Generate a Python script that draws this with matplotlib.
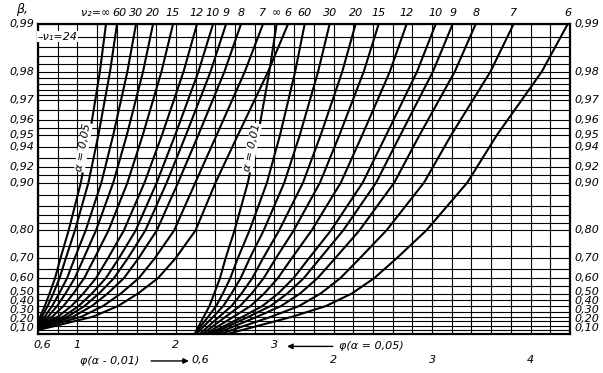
import numpy as np
import matplotlib
matplotlib.use("Agg")
import matplotlib.pyplot as plt
from matplotlib.transforms import blended_transform_factory, offset_copy

# -----------------------------
# Data
# -----------------------------
BETA_LEVELS = [0.30, 0.40, 0.50, 0.60, 0.70, 0.80, 0.90, 0.95, 0.98, 0.99]
NU2_LABELS = ["∞", "60", "30", "20", "15", "12", "10", "9", "8", "7", "6"]

# alpha = 0.05 family, all curves begin at phi = 0.6
A05_START_PHI = [0.6] * 11
A05_START_BETA = [0.27, 0.26, 0.25, 0.24, 0.225, 0.21, 0.20, 0.19, 0.18, 0.165, 0.15]
A05_PHI = [
    [0.621, 0.669, 0.717, 0.773, 0.828, 0.911, 1.035, 1.124, 1.228, 1.290],
    [0.639, 0.698, 0.755, 0.819, 0.882, 0.975, 1.112, 1.213, 1.331, 1.402],
    [0.668, 0.743, 0.815, 0.895, 0.972, 1.084, 1.243, 1.364, 1.507, 1.595],
    [0.702, 0.794, 0.879, 0.973, 1.063, 1.189, 1.364, 1.502, 1.666, 1.768],
    [0.745, 0.858, 0.959, 1.069, 1.173, 1.316, 1.508, 1.664, 1.853, 1.971],
    [0.802, 0.939, 1.060, 1.189, 1.310, 1.472, 1.681, 1.859, 2.077, 2.214],
    [0.856, 1.012, 1.147, 1.289, 1.421, 1.592, 1.805, 1.993, 2.228, 2.377],
    [0.900, 1.072, 1.219, 1.371, 1.511, 1.690, 1.906, 2.102, 2.351, 2.509],
    [0.957, 1.146, 1.307, 1.472, 1.620, 1.806, 2.022, 2.228, 2.492, 2.661],
    [1.041, 1.260, 1.441, 1.623, 1.785, 1.982, 2.197, 2.414, 2.699, 2.884],
    [1.158, 1.412, 1.615, 1.818, 1.996, 2.199, 2.402, 2.630, 2.935, 3.138],
]

# alpha = 0.01 family (phi on the lower scale + 1.6)
A01_START_PHI = [2.20, 2.20, 2.21, 2.24, 2.27, 2.30, 2.33, 2.36, 2.40, 2.45, 2.52]
A01_START_BETA = [0.125, 0.115, 0.105, 0.10, 0.10, 0.10, 0.10, 0.10, 0.10, 0.10, 0.10]
A01_PHI = [
    [2.282, 2.340, 2.389, 2.447, 2.504, 2.595, 2.730, 2.833, 2.948, 3.022],
    [2.328, 2.408, 2.476, 2.552, 2.628, 2.747, 2.924, 3.057, 3.210, 3.307],
    [2.380, 2.480, 2.564, 2.657, 2.749, 2.891, 3.100, 3.258, 3.443, 3.560],
    [2.440, 2.564, 2.666, 2.775, 2.884, 3.048, 3.290, 3.470, 3.688, 3.824],
    [2.505, 2.650, 2.769, 2.891, 3.014, 3.196, 3.462, 3.660, 3.906, 4.058],
    [2.586, 2.757, 2.896, 3.035, 3.175, 3.378, 3.674, 3.892, 4.171, 4.342],
    [2.678, 2.877, 3.038, 3.194, 3.350, 3.574, 3.896, 4.135, 4.447, 4.637],
    [2.740, 2.959, 3.131, 3.298, 3.463, 3.698, 4.032, 4.279, 4.608, 4.809],
    [2.825, 3.067, 3.260, 3.437, 3.616, 3.863, 4.216, 4.474, 4.830, 5.043],
    [2.968, 3.249, 3.469, 3.669, 3.866, 4.137, 4.518, 4.795, 5.192, 5.428],
    [3.182, 3.522, 3.786, 4.013, 4.240, 4.542, 4.957, 5.259, 5.713, 5.977],
]

Y_TICKS = [0.10, 0.20, 0.30, 0.40, 0.50, 0.60, 0.70, 0.80, 0.90, 0.92, 0.94,
           0.95, 0.96, 0.97, 0.98, 0.99]
Y_GRID = [0.10, 0.15, 0.20, 0.25, 0.30, 0.35, 0.40, 0.45, 0.50, 0.55, 0.60,
          0.65, 0.70, 0.75, 0.80, 0.82, 0.84, 0.86, 0.88, 0.90, 0.91, 0.92,
          0.93, 0.94, 0.95, 0.955, 0.96, 0.965, 0.97, 0.972, 0.974, 0.976,
          0.978, 0.98, 0.982, 0.984, 0.986, 0.988, 0.99]
X_TICKS_05 = [0.6, 1, 2, 3]
X_TICKS_01 = [0.6, 2, 3, 4]   # lower row, shifted by 1.6
SHIFT_01 = 1.6

# -----------------------------
# Figure
# -----------------------------
fig = plt.figure(figsize=(6.03, 3.73), dpi=100)
ax = fig.add_axes([38 / 603, 39 / 373, 532 / 603, 310 / 373])

fwd = lambda b: -np.log(1 - np.clip(b, 0, 0.9999))
inv = lambda t: 1 - np.exp(-t)
ax.set_yscale("function", functions=(fwd, inv))
ax.set_ylim(0.10, 0.99)
ax.set_xlim(0.6, 6.0)

for v in np.arange(0.6, 6.01, 0.2):
    ax.axvline(v, color="black", lw=0.8, zorder=1)
for h in Y_GRID:
    ax.axhline(h, color="black", lw=0.8, zorder=1)

for i in range(11):
    xs = [A05_START_PHI[i]] + A05_PHI[i]
    ys = [A05_START_BETA[i]] + BETA_LEVELS
    ax.plot(xs, ys, color="black", lw=1.5, zorder=3)
    xs = [A01_START_PHI[i]] + A01_PHI[i]
    ys = [A01_START_BETA[i]] + BETA_LEVELS
    ax.plot(xs, ys, color="black", lw=1.5, zorder=3)

for s in ax.spines.values():
    s.set_linewidth(1.6)

font = dict(style="italic", fontsize=8, color="black")
ax.set_yticks([])
ax.set_xticks([])

# y labels on both sides; the crowded bottom ones sit a little higher
lift = {0.10: 5.5, 0.20: 7, 0.30: 6.7, 0.40: 5, 0.50: 1.5}
ty = blended_transform_factory(ax.transAxes, ax.transData)
for t in Y_TICKS:
    lab = f"{t:.2f}".replace(".", ",")
    dy = lift.get(t, 0)
    ax.text(-0.006, t, lab, ha="right", va="center",
            transform=offset_copy(ty, fig=fig, y=dy, units="dots"), **font)
    ax.text(1.008, t, lab, ha="left", va="center",
            transform=offset_copy(ty, fig=fig, y=dy, units="dots"), **font)

tr = blended_transform_factory(ax.transData, ax.transAxes)

# top labels
for i, lab in enumerate(NU2_LABELS):
    if i == 0:
        ax.text(A05_PHI[i][-1] + 0.04, 1.018, "ν₂=∞", transform=tr, ha="right",
                va="bottom", **font)
    else:
        ax.text(A05_PHI[i][-1] + (0.02 if i == 1 else 0), 1.018, lab, transform=tr,
                ha="center", va="bottom", **font)
    ax.text(A01_PHI[i][-1], 1.018, lab, transform=tr, ha="center", va="bottom", **font)

fig.text(22 / 603, 1 - 9 / 373, "β,", ha="center", va="center",
         style="italic", fontsize=9)
ax.text(0.80, 0.988, "–ν₁=24", ha="center", va="center", zorder=4,
        bbox=dict(fc="white", ec="none", pad=0.5), **font)
ax.text(1.06, 0.94, "α = 0,05", rotation=80, ha="center", va="center", zorder=4,
        bbox=dict(fc="white", ec="none", pad=0.3), **font)
ax.text(2.77, 0.94, "α = 0,01", rotation=78, ha="center", va="center", zorder=4,
        bbox=dict(fc="white", ec="none", pad=0.3), **font)

# bottom scales
for t in X_TICKS_05:
    ax.text(t if t != 0.6 else 0.64, -0.035, f"{t:g}".replace(".", ","), transform=tr,
            ha="center", va="center", **font)
for t in X_TICKS_01:
    ax.text(t + SHIFT_01 + (0.05 if t == 0.6 else 0), -0.085, f"{t:g}".replace(".", ","),
            transform=tr, ha="center", va="center", **font)

ax.annotate("", xy=(3.1, -0.04), xytext=(3.62, -0.04), xycoords=tr, textcoords=tr,
            arrowprops=dict(arrowstyle="-|>", color="black", lw=1.0, mutation_scale=8))
ax.text(3.66, -0.04, "φ(α = 0,05)", transform=tr, ha="left", va="center", **font)
ax.text(1.33, -0.087, "φ(α - 0,01)", transform=tr, ha="center", va="center", **font)
ax.annotate("", xy=(2.16, -0.087), xytext=(1.72, -0.087), xycoords=tr, textcoords=tr,
            arrowprops=dict(arrowstyle="-|>", color="black", lw=1.0, mutation_scale=8))

fig.savefig("out.png", dpi=100, facecolor="white")
